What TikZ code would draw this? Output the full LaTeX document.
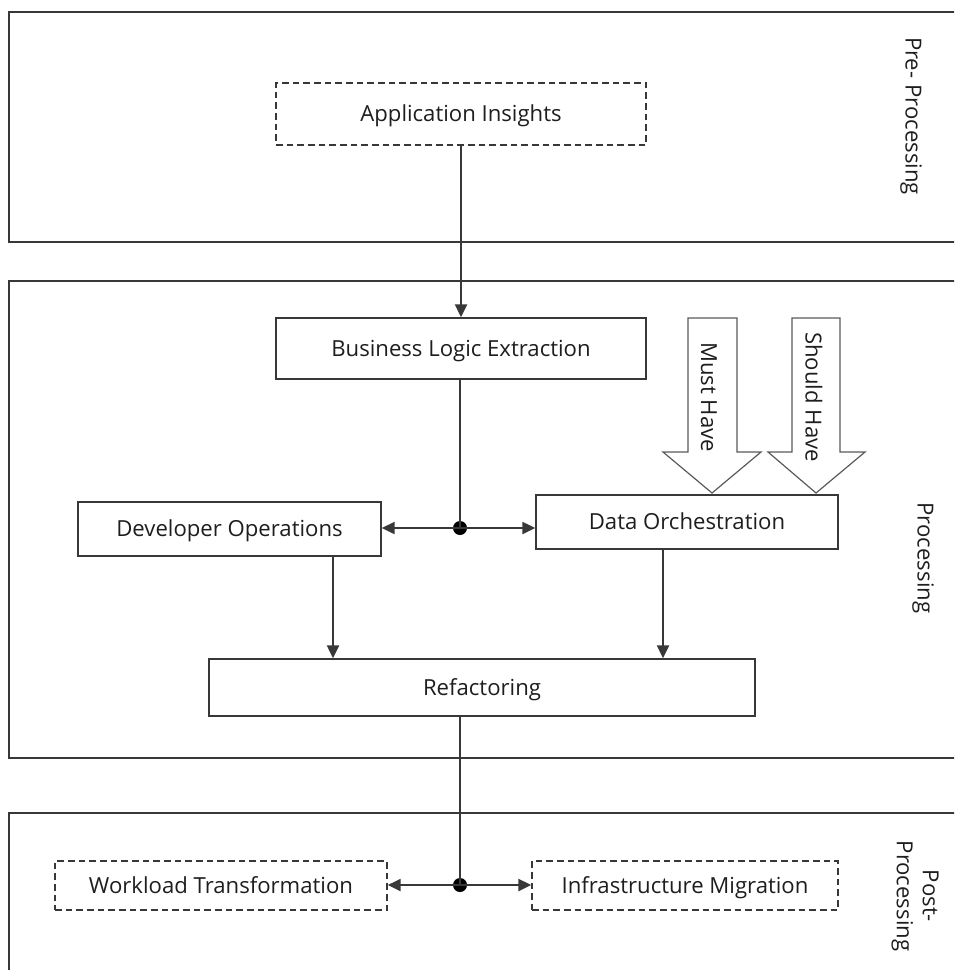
\documentclass[tikz,border=0pt]{standalone}
\usepackage{fontspec}
\setmainfont{Open Sans}
\usetikzlibrary{arrows.meta,calc}
\definecolor{linegray}{HTML}{383838}
\definecolor{textgray}{HTML}{1E1E1E}
\definecolor{arrowgray}{HTML}{5A5A5A}

\begin{document}
\begin{tikzpicture}[x=0.75pt,y=-0.75pt,
  font=\fontsize{16.6pt}{19.5pt}\selectfont, text=textgray,
  panel/.style={draw=linegray,line width=1.4pt},
  box/.style 2 args={draw=linegray,line width=1.3pt,inner sep=0pt,
    minimum width=#1,minimum height=#2,fill=white,
    text height=11.8pt,text depth=0pt},
  dbox/.style 2 args={box={#1}{#2},dash pattern=on 5pt off 3pt},
  conn/.style={draw=linegray,line width=1.4pt},
  flow/.style={conn,-{Triangle[length=9.5pt,width=9pt]}},
  junction/.style={circle,fill=black,inner sep=0pt,minimum size=10.5pt},
  phase/.style={rotate=-90,align=center,inner sep=0pt},
  fat/.style={draw=arrowgray,line width=0.9pt,fill=white,line join=miter},
  fatlabel/.style={rotate=-90,inner sep=0pt}]

\useasboundingbox (0,0) rectangle (954,970);
\clip (0,0) rectangle (954,970);

% phase panels (open to the right)
\draw[panel] (9,12) rectangle (990,242);
\draw[panel] (9,281) rectangle (990,758);
\draw[panel] (9,813) rectangle (990,1000);

% phase titles
\node[phase] (tpre)  at (911,116) {Pre- Processing};
\node[phase] (tproc) at (923,558) {Processing};
\node[phase] (tpost) at (915,896) {Post-\\Processing};

% stages
\node[dbox={277.5pt}{46.5pt}] (appins) at (461,114) {Application Insights};
\node[box={277.5pt}{45.75pt}] (ble) at (461,348.5) {Business Logic Extraction};
\node[box={227.25pt}{40.5pt}] (devops) at (229.5,529) {Developer Operations};
\node[box={226.5pt}{40.5pt}] (dorch) at (687,522) {Data Orchestration};
\node[box={409.5pt}{42.75pt}] (refac) at (482,687.5) {Refactoring};
\node[dbox={249pt}{36.75pt}] (work) at (221,885.5) {Workload Transformation};
\node[dbox={229.5pt}{36.75pt}] (infra) at (685,885.5) {Infrastructure Migration};

% priority arrows into data orchestration
\draw[fat] (688,318) -- (737,318) -- (737,452) -- (761,452) -- (712,493)
  -- (663,452) -- (688,452) -- cycle;
\draw[fat] (792,318) -- (840,318) -- (840,452) -- (865,452) -- (816,493)
  -- (768,452) -- (792,452) -- cycle;
\node[fatlabel] (must) at (709,397) {Must Have};
\node[fatlabel] (should) at (814,397) {Should Have};

% junction points and drop columns
\node[junction] (j1) at (460,528) {};
\node[junction] (j2) at (460,885) {};
\coordinate (dcol) at (333,0);
\coordinate (ocol) at (663,0);

% connectors
\draw[flow] (appins.south) -- (ble.north);
\draw[conn] (ble.south -| j1) -- (j1.center);
\draw[flow] (j1.center) -- (j1 -| devops.east);
\draw[flow] (j1.center) -- (j1 -| dorch.west);
\draw[flow] (devops.south -| dcol) -- (refac.north -| dcol);
\draw[flow] (dorch.south -| ocol) -- (refac.north -| ocol);
\draw[conn] (refac.south -| j2) -- (j2.center);
\draw[flow] (j2.center) -- (j2 -| work.east);
\draw[flow] (j2.center) -- (j2 -| infra.west);
\end{tikzpicture}
\end{document}
